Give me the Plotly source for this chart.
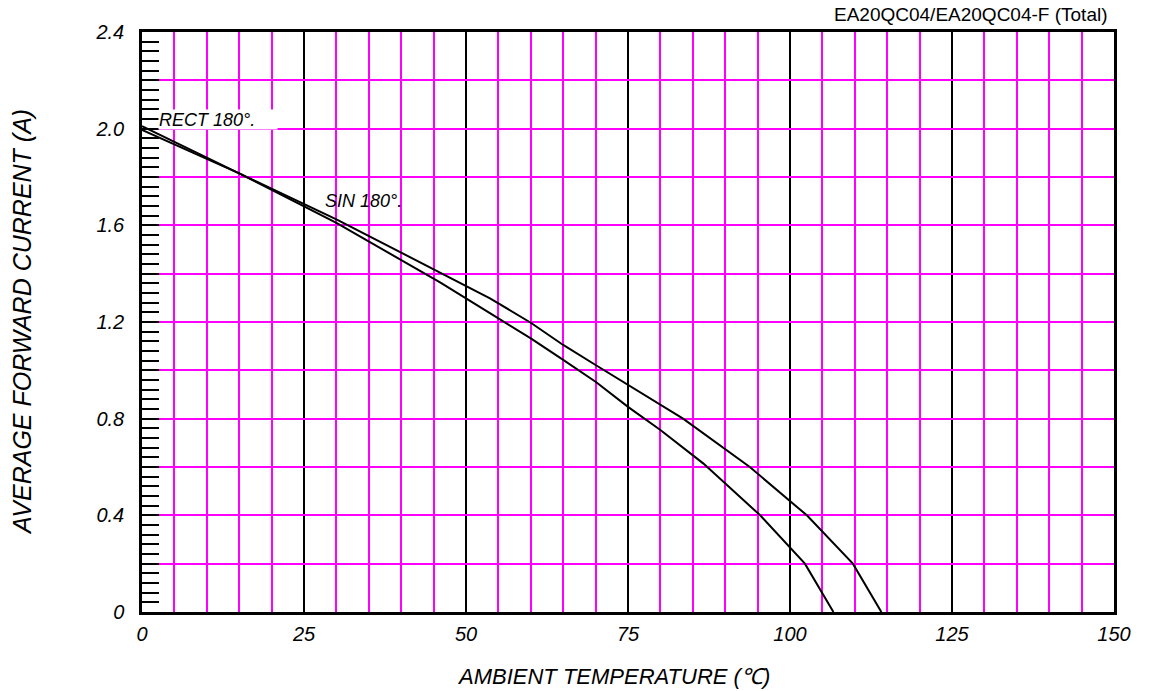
import plotly.graph_objects as go

# ---- data ----
sin_temp = [0, 15, 30, 46, 55, 60, 65, 70, 75, 80, 86.6, 95.4, 102.3, 106.7]
sin_curr = [2.01, 1.815, 1.61, 1.364, 1.215, 1.132, 1.043, 0.953, 0.849, 0.753, 0.615, 0.40, 0.20, 0.0]

rect_temp = [0, 15, 30, 46, 53.7, 60, 65, 70, 75, 80, 83.5, 93.8, 102.6, 109.7, 114.1]
rect_curr = [1.995, 1.815, 1.625, 1.404, 1.298, 1.197, 1.105, 1.022, 0.939, 0.856, 0.80, 0.60, 0.40, 0.20, 0.0]

x_ticks = [0, 25, 50, 75, 100, 125, 150]
x_ticklabels = ["0", "25", "50", "75", "100", "125", "150"]
y_ticks = [0, 0.2, 0.4, 0.6, 0.8, 1.0, 1.2, 1.4, 1.6, 1.8, 2.0, 2.2, 2.4]
y_ticklabels = ["0", "", "0.4", "", "0.8", "", "1.2", "", "1.6", "", "2.0", "", "2.4"]

title_text = "EA20QC04/EA20QC04-F (Total)"
x_title = "AMBIENT TEMPERATURE (℃)"
y_title = "AVERAGE FORWARD CURRENT (A)"
rect_label = "RECT 180°."
sin_label = "SIN 180°."

MAGENTA = "#ff00ff"
FONT = "Liberation Sans, Arial, sans-serif"

fig = go.Figure()
fig.add_trace(go.Scatter(x=sin_temp, y=sin_curr, mode="lines",
                         line=dict(color="black", width=2), showlegend=False))
fig.add_trace(go.Scatter(x=rect_temp, y=rect_curr, mode="lines",
                         line=dict(color="black", width=2), showlegend=False))

fig.update_layout(
    width=1151, height=691,
    margin=dict(l=142, r=37, t=32, b=79),
    paper_bgcolor="white", plot_bgcolor="white",
    font=dict(family=FONT, color="black"),
    xaxis=dict(
        range=[0, 150], tickmode="array", tickvals=x_ticks, ticktext=x_ticklabels,
        showgrid=True, gridcolor="black", gridwidth=2,
        minor=dict(tickmode="linear", tick0=0, dtick=5, showgrid=True,
                   gridcolor=MAGENTA, gridwidth=2, ticks=""),
        ticks="", showline=True, linecolor="black", linewidth=2.5, mirror=True,
        zeroline=False, tickfont=dict(size=20, style="italic", family=FONT),
        ticklabelstandoff=2,
    ),
    yaxis=dict(
        range=[0, 2.4], tickmode="array", tickvals=y_ticks, ticktext=y_ticklabels,
        showgrid=True, gridcolor=MAGENTA, gridwidth=2,
        ticks="inside", ticklen=17, tickwidth=2, tickcolor="black",
        minor=dict(tickmode="linear", tick0=0, dtick=0.04, ticks="inside",
                   ticklen=17, tickwidth=2, tickcolor="black", showgrid=False),
        showline=True, linecolor="black", linewidth=2.5, mirror=True,
        zeroline=False, tickfont=dict(size=20, style="italic", family=FONT),
        ticklabelstandoff=11,
    ),
)

annotations = [
    dict(text=rect_label, x=2.5, y=2.038, xref="x", yref="y", xanchor="left", yanchor="middle",
         showarrow=False, bgcolor="white", width=118, height=19, align="left", borderpad=0,
         font=dict(size=18, style="italic", family=FONT, color="black")),
    dict(text=sin_label, x=27.9, y=1.70, xref="x", yref="y", xanchor="left", yanchor="middle",
         showarrow=False, font=dict(size=18, style="italic", family=FONT, color="black")),
    dict(text=title_text, x=0.9959, y=1.031, xref="paper", yref="paper", xanchor="right",
         yanchor="middle", showarrow=False, font=dict(size=19, family=FONT, color="black")),
    dict(text=x_title, x=0.4846, y=-0.112, xref="paper", yref="paper", xanchor="center",
         yanchor="middle", showarrow=False, font=dict(size=22, style="italic", family=FONT, color="black")),
    dict(text=y_title, x=-0.1235, y=0.5, xref="paper", yref="paper", xanchor="center",
         yanchor="middle", textangle=-90, showarrow=False,
         font=dict(size=25, style="italic", family=FONT, color="black")),
]
fig.update_layout(annotations=annotations)

fig.write_html("out.html", config={"displayModeBar": False},
               post_script="document.body.style.margin='0';")
